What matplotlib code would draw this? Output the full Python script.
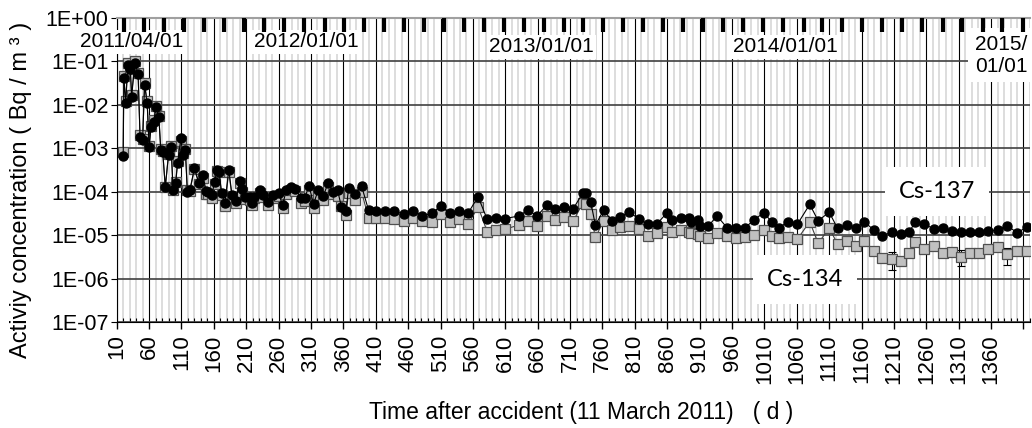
import numpy as np
import pandas as pd
import matplotlib
matplotlib.use("Agg")
import matplotlib.pyplot as plt
from matplotlib.ticker import FuncFormatter, NullLocator

plt.rcParams['font.family'] = ['Liberation Sans', 'DejaVu Sans']

# days after the accident (11 March 2011)
days = [20, 21, 24, 27, 31, 33, 38, 43, 46, 50, 53, 57, 60, 63, 67, 71, 75, 78, 81, 85,
        90, 94, 97, 101, 104, 109, 112, 116, 119, 123, 130, 137, 143, 148, 151, 157, 161, 165, 168, 172,
        177, 183, 188, 194, 200, 204, 208, 216, 219, 222, 231, 236, 244, 252, 260, 266, 272, 279, 286, 294,
        300, 307, 314, 321, 329, 336, 344, 351, 357, 364, 368, 378, 388, 399, 411, 424, 438, 454, 468, 482,
        497, 510, 524, 539, 553, 568, 582, 595, 609, 631, 645, 659, 674, 687, 701, 715, 730, 735, 742, 749,
        762, 774, 787, 801, 816, 830, 844, 859, 868, 881, 894, 896, 908, 910, 923, 937, 953, 966, 980, 994,
        1009, 1021, 1032, 1046, 1061, 1080, 1093, 1110, 1123, 1137, 1151, 1164, 1179, 1192, 1207, 1221, 1234, 1243, 1257, 1272,
        1286, 1300, 1314, 1328, 1342, 1356, 1370, 1385, 1400, 1415]

cs137 = [6.6e-4, 4.1e-2, 1.1e-2, 8.3e-2, 6.6e-2, 1.5e-2, 9.4e-2, 5.1e-2, 1.85e-3, 1.55e-3,
         2.9e-2, 1.09e-2, 1.05e-3, 3.1e-3, 4.1e-3, 9.1e-3, 5.2e-3, 9.1e-4, 8.3e-4, 1.3e-4,
         7.0e-4, 1.09e-3, 1.1e-4, 1.56e-4, 4.5e-4, 1.7e-3, 7.0e-4, 9.1e-4, 1.0e-4, 1.1e-4,
         3.5e-4, 1.56e-4, 2.4e-4, 1.05e-4, 9.8e-5, 8.4e-5, 1.7e-4, 3.2e-4, 2.9e-4, 9.2e-5,
         5.4e-5, 3.2e-4, 8.4e-5, 6.1e-5, 1.8e-4, 1.16e-4, 7.6e-5, 7.7e-5, 5.4e-5, 7.7e-5,
         1.1e-4, 8.4e-5, 5.8e-5, 8.4e-5, 9.2e-5, 4.9e-5, 1.1e-4, 1.28e-4, 1.17e-4, 7.1e-5,
         7.1e-5, 1.35e-4, 5.2e-5, 1.1e-4, 7.8e-5, 1.56e-4, 1.0e-4, 1.07e-4, 4.5e-5, 3.5e-5,
         1.23e-4, 8.9e-5, 1.35e-4, 3.7e-5, 3.66e-5, 3.66e-5, 3.5e-5, 3.07e-5, 3.66e-5, 2.76e-5,
         3.2e-5, 4.7e-5, 3.2e-5, 3.6e-5, 3.3e-5, 7.7e-5, 2.3e-5, 2.5e-5, 2.4e-5, 2.76e-5,
         3.8e-5, 2.76e-5, 4.9e-5, 3.9e-5, 4.5e-5, 4.1e-5, 9.5e-5, 9.2e-5, 5.7e-5, 1.7e-5,
         3.8e-5, 2.15e-5, 2.66e-5, 3.36e-5, 2.4e-5, 1.78e-5, 1.8e-5, 3.2e-5, 2.23e-5, 2.44e-5,
         2.44e-5, 2.04e-5, 2.23e-5, 1.6e-5, 1.6e-5, 2.76e-5, 1.44e-5, 1.48e-5, 1.48e-5, 2.23e-5,
         3.3e-5, 2.04e-5, 1.44e-5, 2.04e-5, 1.79e-5, 5.1e-5, 2.15e-5, 3.36e-5, 1.44e-5, 1.71e-5,
         1.44e-5, 2.04e-5, 1.31e-5, 9.5e-6, 1.2e-5, 1.06e-5, 1.2e-5, 2.04e-5, 1.78e-5, 1.39e-5,
         1.48e-5, 1.25e-5, 1.16e-5, 1.16e-5, 1.2e-5, 1.25e-5, 1.31e-5, 1.65e-5, 1.14e-5, 1.51e-5]

cs134 = [8.4e-4, 4.6e-2, 1.2e-2, 9.0e-2, 6.6e-2, 1.7e-2, 1.0e-1, 5.4e-2, 2.0e-3, 1.6e-3,
         3.1e-2, 1.2e-2, 1.1e-3, 3.3e-3, 4.5e-3, 9.4e-3, 5.6e-3, 9.8e-4, 8.6e-4, 1.25e-4,
         7.5e-4, 1.1e-3, 1.1e-4, 1.7e-4, 5.0e-4, 1.5e-3, 7.6e-4, 9.5e-4, 1.1e-4, 1.05e-4,
         3.3e-4, 1.5e-4, 2.1e-4, 9.0e-5, 9.0e-5, 7.0e-5, 1.5e-4, 3.0e-4, 2.8e-4, 8.5e-5,
         4.6e-5, 2.9e-4, 7.5e-5, 5.5e-5, 1.6e-4, 1.0e-4, 6.8e-5, 6.5e-5, 5.0e-5, 7.0e-5,
         9.5e-5, 7.5e-5, 5.0e-5, 7.2e-5, 8.0e-5, 4.3e-5, 9.0e-5, 1.1e-4, 1.05e-4, 5.5e-5,
         6.0e-5, 1.1e-4, 4.3e-5, 8.5e-5, 6.5e-5, 1.25e-4, 8.8e-5, 8.0e-5, 4.6e-5, 2.9e-5,
         9.5e-5, 6.5e-5, 1.0e-4, 2.44e-5, 2.52e-5, 2.44e-5, 2.32e-5, 2.15e-5, 2.44e-5, 2.15e-5,
         2.04e-5, 3.0e-5, 2.04e-5, 2.32e-5, 1.81e-5, 4.5e-5, 1.2e-5, 1.31e-5, 1.36e-5, 1.71e-5,
         2.12e-5, 1.62e-5, 2.76e-5, 2.23e-5, 2.66e-5, 2.12e-5, 5.6e-5, 5.2e-5, 3.0e-5, 8.9e-6,
         2.12e-5, 1.31e-5, 1.52e-5, 1.62e-5, 1.36e-5, 9.5e-6, 1.14e-5, 1.57e-5, 1.2e-5, 1.31e-5,
         1.2e-5, 1.12e-5, 1.06e-5, 9.5e-6, 8.5e-6, 1.14e-5, 9.5e-6, 8.5e-6, 8.9e-6, 1.0e-5,
         1.31e-5, 9.5e-6, 8.5e-6, 8.9e-6, 8.1e-6, 2.04e-5, 6.5e-6, 1.44e-5, 6.3e-6, 7.45e-6,
         5.6e-6, 7.45e-6, 4.4e-6, 3.0e-6, 2.8e-6, 2.54e-6, 3.95e-6, 6.8e-6, 4.7e-6, 5.6e-6,
         3.8e-6, 4.16e-6, 3.2e-6, 3.8e-6, 3.8e-6, 4.7e-6, 5.25e-6, 3.6e-6, 4.4e-6, 4.4e-6]

# Cs-134 points that carry an error bar
err_days = [1207, 1314, 1385]
err_vals = [1.2e-6, 1.3e-6, 1.5e-6]

date_labels = ['2011/04/01', '2012/01/01', '2013/01/01', '2014/01/01', '2015/\n01/01']

accident = pd.Timestamp('2011-03-11')
months = pd.date_range('2011-04-01', '2015-01-01', freq='MS')
month_days = [(m - accident).days for m in months]

fig = plt.figure(figsize=(10.32, 4.28), dpi=100)
ax = fig.add_axes([0.1131, 0.2477, 0.8849, 0.7103])

ax.plot(days, cs134, marker='s', ms=7.5, mfc='#c0c0c0', mec='#505050', mew=0.9,
        color='#404040', lw=0.8, zorder=2)
ebar_y = [cs134[days.index(d)] for d in err_days]
ax.errorbar(err_days, ebar_y, yerr=err_vals, fmt='none', ecolor='black', elinewidth=0.8,
            capsize=3, capthick=0.8, zorder=1.9)
ax.plot(days, cs137, marker='o', ms=6.5, mfc='black', mec='black', color='black', lw=0.8, zorder=3)

ax.set_yscale('log')
ax.set_ylim(1e-7, 1)
ax.set_xlim(10, 1420)
ax.set_yticks(10.0 ** np.arange(-7, 1))
ax.yaxis.set_major_formatter(FuncFormatter(lambda v, p: "1E%+03d" % int(round(np.log10(v)))))
ax.yaxis.set_minor_locator(NullLocator())
ax.set_xticks(np.arange(10, 1411, 50))
ax.set_xticks(np.arange(10, 1421, 10), minor=True)
ax.xaxis.set_major_formatter(FuncFormatter(lambda v, p: '%d' % v if v < 1400 else ''))
ax.tick_params(axis='x', which='major', direction='out', length=5, width=1, labelsize=16,
               labelrotation=90, pad=4)
ax.tick_params(axis='x', which='minor', direction='in', length=3, width=0.8)
ax.tick_params(axis='y', which='major', direction='out', length=4, labelsize=15.5, pad=2)

ax.set_axisbelow(True)
ax.grid(which='minor', axis='x', color='#dadada', lw=1.3)
ax.grid(which='major', axis='x', color='black', lw=0.8)
ax.grid(which='major', axis='y', color='#404040', lw=1.2)

ax.spines['right'].set_visible(False)
ax.spines['top'].set_color('#a0a0a0')
ax.spines['top'].set_linewidth(1.5)

fig.text(581 / 1032, 1 - 412 / 428, 'Time after accident (11 March 2011)   ( d )', fontsize=16.5,
         ha='center', va='center')
fig.text(21 / 1032, 1 - 190 / 428, 'Activiy concentration ( Bq / m ³ )', fontsize=17,
         rotation=90, ha='center', va='center')

# monthly ticks on top, January in red
top = ax.twiny()
top.set_xlim(10, 1403)
top.set_xticks(month_days)
top.tick_params(axis='x', direction='in', length=10, width=3, labeltop=False, color='black')
for t, m in zip(top.xaxis.get_major_ticks(), months):
    if m.month == 1:
        t.tick1line.set_color('red')
        t.tick2line.set_color('red')
for s in top.spines.values():
    s.set_visible(False)

box = dict(facecolor='white', edgecolor='none', pad=1.5)
ax.text(33, 0.28, date_labels[0], fontsize=15, ha='center', va='center', bbox=box)
ax.text(302, 0.28, date_labels[1], fontsize=15, ha='center', va='center', bbox=box)
ax.text(666, 0.215, date_labels[2], fontsize=15, ha='center', va='center', bbox=box)
ax.text(1042, 0.215, date_labels[3], fontsize=15, ha='center', va='center', bbox=box)
ax.text(1335, 0.14, date_labels[4], fontsize=15, ha='left', va='center', linespacing=1.2,
        bbox=dict(facecolor='white', edgecolor='none', pad=5))

ax.text(1276, 1.0e-4, 'Cs-137', fontsize=17, family='Lato', ha='center', va='center',
        bbox=dict(facecolor='white', edgecolor='none', pad=10), zorder=4)
ax.text(1073, 9.3e-7, 'Cs-134', fontsize=17, family='Lato', ha='center', va='center',
        bbox=dict(facecolor='white', edgecolor='none', pad=10), zorder=4)

fig.savefig('out.png', dpi=100)
